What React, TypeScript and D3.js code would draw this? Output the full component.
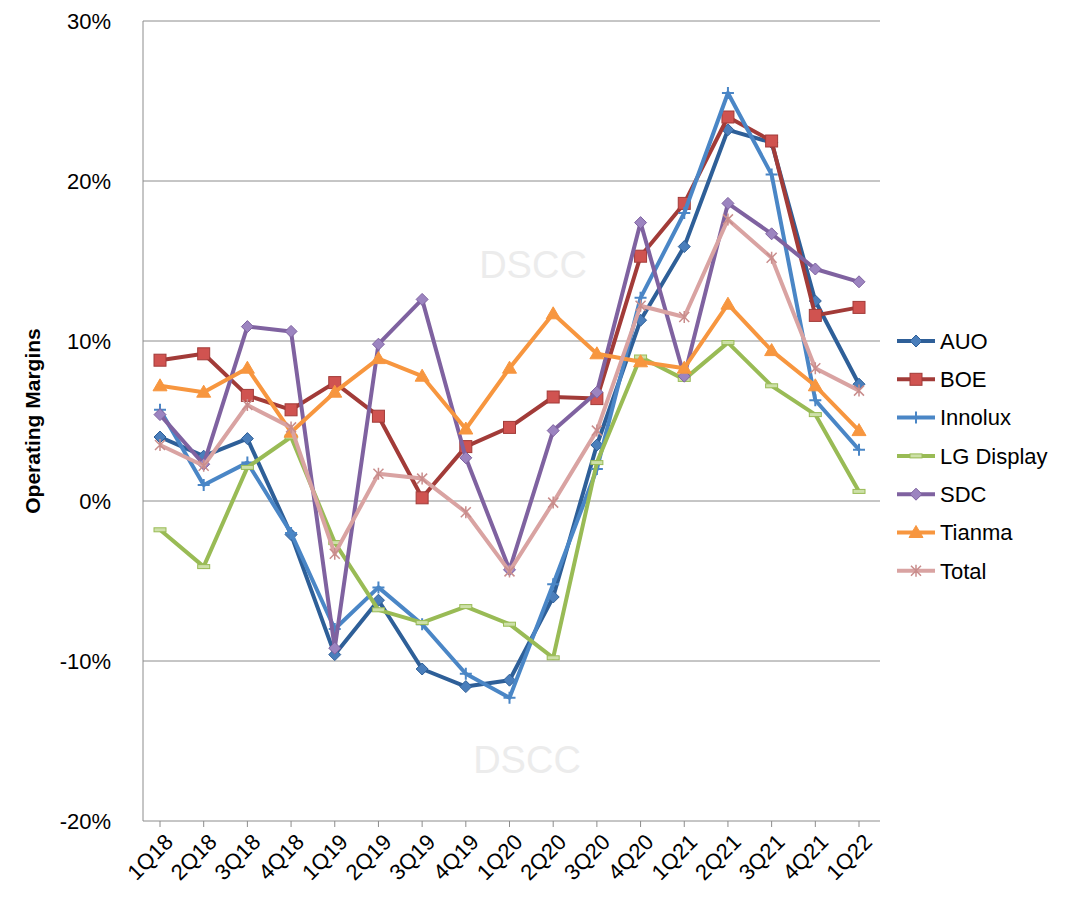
import React from "react";
import * as d3 from "d3";

const quarters = ["1Q18","2Q18","3Q18","4Q18","1Q19","2Q19","3Q19","4Q19","1Q20","2Q20","3Q20","4Q20","1Q21","2Q21","3Q21","4Q21","1Q22"];
const auo = [4.0,2.8,3.9,-2.1,-9.6,-6.2,-10.5,-11.6,-11.2,-6.0,3.5,11.3,15.9,23.2,22.4,12.5,7.3];
const boe = [8.8,9.2,6.6,5.7,7.4,5.3,0.2,3.4,4.6,6.5,6.4,15.3,18.6,24.0,22.5,11.6,12.1];
const innolux = [5.7,1.0,2.4,-2.0,-8.0,-5.4,-7.7,-10.8,-12.3,-5.2,2.0,12.7,18.0,25.5,20.4,6.3,3.2];
const lgd = [-1.8,-4.1,2.1,4.0,-2.6,-6.8,-7.6,-6.6,-7.7,-9.8,2.4,9.0,7.6,9.9,7.2,5.4,0.6];
const sdc = [5.4,2.3,10.9,10.6,-9.2,9.8,12.6,2.7,-4.3,4.4,6.8,17.4,7.8,18.6,16.7,14.5,13.7];
const tianma = [7.2,6.8,8.3,4.3,6.8,8.9,7.8,4.5,8.3,11.7,9.2,8.7,8.3,12.3,9.4,7.2,4.4];
const total = [3.5,2.2,6.0,4.6,-3.3,1.7,1.4,-0.7,-4.4,-0.1,4.4,12.2,11.5,17.6,15.2,8.3,6.9];
const yTicks = [30,20,10,0,-10,-20];

const series = [
  { name: "AUO", data: auo, color: "#2E5F98", mark: "diamond", mfill: "#4A7EBB" },
  { name: "BOE", data: boe, color: "#A23B38", mark: "square", mfill: "#D05350" },
  { name: "Innolux", data: innolux, color: "#4A86C6", mark: "plus", mfill: "#4A86C6" },
  { name: "LG Display", data: lgd, color: "#99BB55", mark: "dash", mfill: "#99BB55" },
  { name: "SDC", data: sdc, color: "#7F62A0", mark: "diamond", mfill: "#9C84C0" },
  { name: "Tianma", data: tianma, color: "#F7963F", mark: "triangle", mfill: "#F7963F" },
  { name: "Total", data: total, color: "#D9A3A2", mark: "star", mfill: "#D9A3A2" },
];

const x = d3.scalePoint<string>().domain(quarters).range([160, 859]);
const y = d3.scaleLinear().domain([-20, 30]).range([821, 21]);

function Marker({ kind, cx, cy, color, fill }: any) {
  const s = 6;
  switch (kind) {
    case "diamond":
      return <path d={`M${cx},${cy - s}L${cx + s},${cy}L${cx},${cy + s}L${cx - s},${cy}Z`} fill={fill} stroke={color} strokeWidth={1} />;
    case "square":
      return <rect x={cx - 6} y={cy - 6} width={12} height={12} fill={fill} stroke={color} strokeWidth={1} />;
    case "plus":
      return <path d={`M${cx - 6},${cy}H${cx + 6}M${cx},${cy - 6}V${cy + 6}`} stroke={color} strokeWidth={2} />;
    case "dash":
      return <rect x={cx - 6} y={cy - 2} width={12} height={4} fill="#CDE0A8" stroke={color} strokeWidth={1} />;
    case "triangle":
      return <path d={`M${cx},${cy - 7}L${cx + 7},${cy + 5}L${cx - 7},${cy + 5}Z`} fill={fill} stroke={color} strokeWidth={1} />;
    case "star":
      return <path d={`M${cx - 5},${cy - 5}L${cx + 5},${cy + 5}M${cx + 5},${cy - 5}L${cx - 5},${cy + 5}M${cx},${cy - 6}V${cy + 6}`} stroke="#C98D8C" strokeWidth={1.5} />;
  }
  return null;
}

export default function App() {
  const line = d3.line<number>().x((_, i) => x(quarters[i])!).y((d) => y(d));
  return (
    <svg width={1080} height={909} style={{ position: "absolute", left: 0, top: 0, fontFamily: "Liberation Sans, Arial, sans-serif" }}>
      <rect width={1080} height={909} fill="#fff" />
      {yTicks.map((t) => (
        <g key={t}>
          <line x1={143} x2={880} y1={y(t)} y2={y(t)} stroke="#8c8c8c" strokeWidth={1} />
          <text x={111} y={y(t)} dy="0.35em" textAnchor="end" fontSize={22}>{t}%</text>
        </g>
      ))}
      <line x1={143} x2={143} y1={21} y2={821} stroke="#8c8c8c" />
      {quarters.map((q) => (
        <g key={q}>
          <line x1={x(q)} x2={x(q)} y1={821} y2={827} stroke="#8c8c8c" />
          <text transform={`translate(${x(q)! + 9},${838}) rotate(-45)`} textAnchor="end" fontSize={22} dy="0.35em">{q}</text>
        </g>
      ))}
      <text transform="translate(40,421) rotate(-90)" textAnchor="middle" fontSize={21} fontWeight="bold">Operating Margins</text>
      <text x={533} y={278} textAnchor="middle" fontSize={38} fill="#ececec">DSCC</text>
      <text x={527} y={773} textAnchor="middle" fontSize={38} fill="#ececec">DSCC</text>
      {series.map((s) => (
        <g key={s.name}>
          <path d={line(s.data)!} fill="none" stroke={s.color} strokeWidth={4} strokeLinejoin="round" />
          {s.data.map((v, i) => (
            <Marker key={i} kind={s.mark} cx={x(quarters[i])} cy={y(v)} color={s.color} fill={s.mfill} />
          ))}
        </g>
      ))}
      {series.map((s, i) => {
        const ly = 341 + i * 38.3;
        return (
          <g key={s.name}>
            <line x1={897} x2={935} y1={ly} y2={ly} stroke={s.color} strokeWidth={4} />
            <Marker kind={s.mark} cx={916} cy={ly} color={s.color} fill={s.mfill} />
            <text x={940} y={ly} dy="0.35em" fontSize={22}>{s.name}</text>
          </g>
        );
      })}
    </svg>
  );
}
